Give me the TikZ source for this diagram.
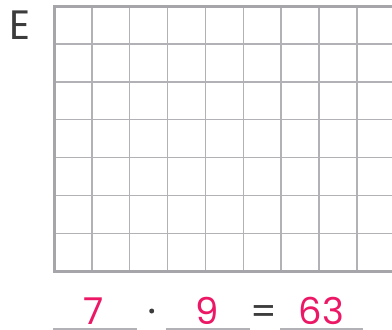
\documentclass[tikz,border=0pt]{standalone}
\usepackage{fontspec}
\setmainfont{Poppins}
\usepackage{tikz}
\usetikzlibrary{positioning}
\definecolor{gridgray}{RGB}{178,178,182}
\definecolor{framegray}{RGB}{165,165,170}
\definecolor{inkpink}{RGB}{236,24,102}
\definecolor{darktext}{RGB}{60,60,60}
\tikzset{
  gridline/.style={gridgray, line width=1.4pt},
  frameline/.style={framegray, line width=3pt},
  answer/.style={inkpink, font=\fontsize{37}{37}\selectfont, inner sep=0pt, text depth=0pt, anchor=base},
  symb/.style={darktext, font=\fontsize{37}{37}\selectfont, inner sep=0pt, text depth=0pt, anchor=base},
  blank/.style={gridgray, line width=1.3pt},
}

\begin{document}
\begin{tikzpicture}[x=1pt, y=-1pt]
\useasboundingbox (0,0) rectangle (392,330);
\node[darktext, font=\fontsize{41}{41}\selectfont, inner sep=0pt, anchor=base west] (task) at (9,39) {E};
% grid
\foreach \i in {1,...,8}
  \draw[gridline] ({54+37.85*\i},6) -- ({54+37.85*\i},271);
\foreach \j in {1,...,6}
  \draw[gridline] (54,{6+37.9*\j}) -- (392,{6+37.9*\j});
\draw[frameline] (392,6) -- (54,6) -- (54,271) -- (392,271);
% equation
\node[answer] (f1) at (94,324.5) {7};
\node[darktext, circle, fill, inner sep=0pt, minimum size=5pt] (dot) at (151.7,311) {};
\node[answer] (f2) at (207.5,324.5) {9};
\node[symb] (eq) at (264,324.5) {=};
\node[answer] (prod) at (321.5,324.5) {63};
\coordinate (u1a) at (53,329); \coordinate (u1b) at (137,329);
\coordinate (u2a) at (166,329); \coordinate (u2b) at (250,329);
\coordinate (u3a) at (280,329); \coordinate (u3b) at (363,329);
\foreach \a/\b in {u1a/u1b, u2a/u2b, u3a/u3b}
  \draw[blank] (\a) -- (\b);
\end{tikzpicture}
\end{document}
